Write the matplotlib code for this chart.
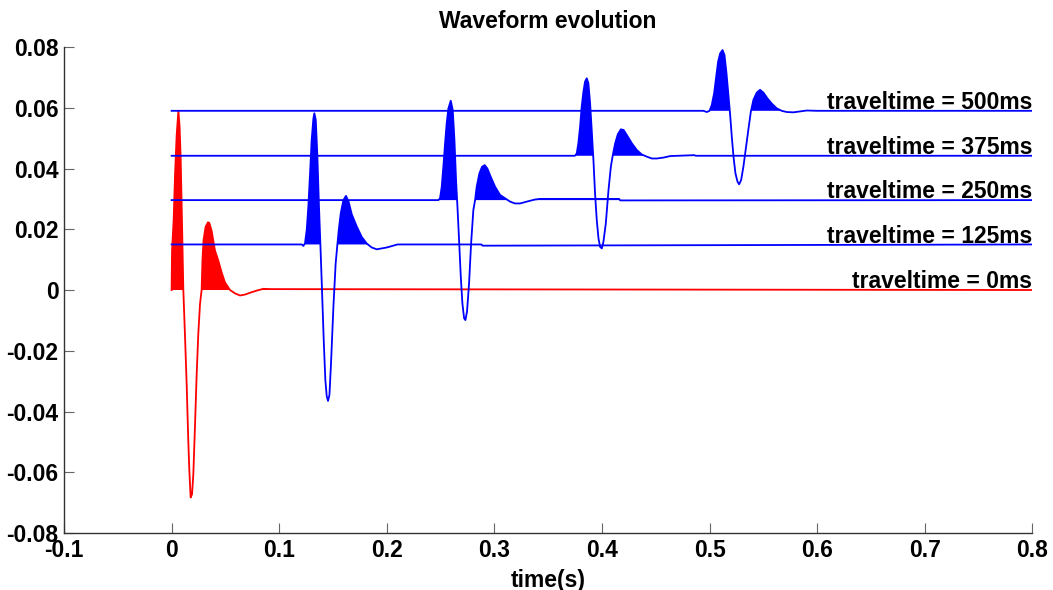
import matplotlib
matplotlib.use('Agg')
import matplotlib.pyplot as plt

plt.rcParams['font.family'] = ['Liberation Sans', 'DejaVu Sans']
plt.rcParams['font.weight'] = 'bold'

# traces: one wavelet per travel time, drawn on its own baseline
labels = ['traveltime = 0ms', 'traveltime = 125ms', 'traveltime = 250ms',
          'traveltime = 375ms', 'traveltime = 500ms']
baselines = [0.0, 0.0150, 0.0296, 0.0442, 0.0590]
colors = ['red', 'blue', 'blue', 'blue', 'blue']

# 0 ms
t_0 = [0.0, 0.0004, 0.0019, 0.0032, 0.0047, 0.0063, 0.0074, 0.0084, 0.0097, 0.0109,
       0.0125, 0.0140, 0.0155, 0.0165, 0.0177, 0.0190, 0.0202, 0.0218, 0.0233, 0.0248,
       0.0264, 0.0279, 0.0287, 0.0297, 0.0316, 0.0338, 0.0350, 0.0372, 0.0403, 0.0434,
       0.0465, 0.0496, 0.0543, 0.0589, 0.0636, 0.0682, 0.0729, 0.0791, 0.0853, 0.0915]
v_0 = [0.0, 0.013, 0.023, 0.038, 0.051, 0.059, 0.054, 0.0437, 0.0217, 0.0,
       -0.0156, -0.031, -0.0496, -0.0595, -0.0683, -0.0672, -0.0606, -0.0441, -0.0277, -0.0145,
       -0.0046, 0.0, 0.010, 0.0165, 0.0208, 0.0223, 0.0221, 0.0195, 0.013, 0.0097,
       0.0058, 0.0025, 0.0, -0.0011, -0.0018, -0.0015, -0.0009, -0.0002, 0.0004, 0.0003]

# 125 ms
t_1 = [0.1210, 0.1225, 0.1240, 0.1256, 0.1271, 0.1287, 0.1302, 0.1318, 0.1327, 0.1340,
       0.1355, 0.1370, 0.1383, 0.1398, 0.1414, 0.1429, 0.1442, 0.1454, 0.1467, 0.1482,
       0.1504, 0.1525, 0.1541, 0.1554, 0.1572, 0.1597, 0.1621, 0.1646, 0.1674, 0.1721,
       0.1767, 0.1814, 0.1860, 0.1907, 0.2000, 0.2100, 0.2880, 0.2890]
v_1 = [0.0150, 0.0145, 0.0154, 0.0198, 0.0274, 0.0384, 0.0494, 0.0565, 0.0582, 0.0560,
       0.0440, 0.0274, 0.0150, 0.0000, -0.0165, -0.0296, -0.0350, -0.0365, -0.0346, -0.0240,
       -0.0055, 0.0088, 0.0150, 0.0198, 0.0252, 0.0296, 0.0310, 0.0290, 0.0250, 0.0209,
       0.0175, 0.0153, 0.0140, 0.0134, 0.0140, 0.0150, 0.0150, 0.0146]

# 250 ms
t_2 = [0.2480, 0.2495, 0.2511, 0.2526, 0.2542, 0.2557, 0.2573, 0.2595, 0.2613, 0.2629,
       0.2644, 0.2657, 0.2672, 0.2688, 0.2703, 0.2719, 0.2731, 0.2746, 0.2765, 0.2784,
       0.2805, 0.2821, 0.2836, 0.2861, 0.2886, 0.2911, 0.2935, 0.2966, 0.3007, 0.3053,
       0.3100, 0.3146, 0.3192, 0.3239, 0.3301, 0.3378, 0.3425, 0.4160, 0.4170]
v_2 = [0.0296, 0.0302, 0.0340, 0.0406, 0.0483, 0.0549, 0.0598, 0.0623, 0.0593, 0.0494,
       0.0362, 0.0274, 0.0165, 0.0044, -0.0044, -0.0093, -0.0099, -0.0071, 0.0022, 0.0154,
       0.0264, 0.0296, 0.0340, 0.0384, 0.0406, 0.0411, 0.0400, 0.0373, 0.0340, 0.0313,
       0.0302, 0.0291, 0.0285, 0.0285, 0.0291, 0.0298, 0.0300, 0.0300, 0.0295]

# 375 ms
t_3 = [0.3750, 0.3766, 0.3781, 0.3797, 0.3812, 0.3828, 0.3843, 0.3859, 0.3874, 0.3890,
       0.3905, 0.3921, 0.3936, 0.3952, 0.3968, 0.3983, 0.3999, 0.4014, 0.4036, 0.4061,
       0.4083, 0.4101, 0.4123, 0.4148, 0.4176, 0.4201, 0.4232, 0.4278, 0.4324, 0.4371,
       0.4418, 0.4464, 0.4510, 0.4572, 0.4634, 0.4860, 0.4870]
v_3 = [0.0442, 0.0450, 0.0483, 0.0538, 0.0604, 0.0653, 0.0686, 0.0697, 0.0681, 0.0615,
       0.0527, 0.0428, 0.0318, 0.0230, 0.0170, 0.0142, 0.0137, 0.0159, 0.0219, 0.0329,
       0.0406, 0.0444, 0.0483, 0.0513, 0.0529, 0.0527, 0.0510, 0.0483, 0.0461, 0.0446,
       0.0439, 0.0433, 0.0433, 0.0436, 0.0441, 0.0444, 0.0442]

# 500 ms
t_4 = [0.4943, 0.4975, 0.5000, 0.5021, 0.5043, 0.5062, 0.5080, 0.5099, 0.5121, 0.5139,
       0.5158, 0.5177, 0.5192, 0.5207, 0.5223, 0.5241, 0.5260, 0.5275, 0.5294, 0.5315,
       0.5340, 0.5365, 0.5384, 0.5408, 0.5439, 0.5470, 0.5501, 0.5538, 0.5578, 0.5625,
       0.5671, 0.5718, 0.5780, 0.5842, 0.5904, 0.6000]
v_4 = [0.0590, 0.0586, 0.0590, 0.0609, 0.0648, 0.0702, 0.0752, 0.0779, 0.0790, 0.0774,
       0.0713, 0.0637, 0.0576, 0.0505, 0.0439, 0.0384, 0.0357, 0.0348, 0.0362, 0.0406,
       0.0472, 0.0538, 0.0587, 0.0626, 0.0650, 0.0659, 0.0650, 0.0631, 0.0614, 0.0598,
       0.0590, 0.0586, 0.0585, 0.0588, 0.0591, 0.0590]

times = [t_0, t_1, t_2, t_3, t_4]
values = [v_0, v_1, v_2, v_3, v_4]

xticks = [-0.1, 0, 0.1, 0.2, 0.3, 0.4, 0.5, 0.6, 0.7, 0.8]
xticklabels = ['-0.1', '0', '0.1', '0.2', '0.3', '0.4', '0.5', '0.6', '0.7', '0.8']
yticks = [-0.08, -0.06, -0.04, -0.02, 0, 0.02, 0.04, 0.06, 0.08]
yticklabels = ['-0.08', '-0.06', '-0.04', '-0.02', '0', '0.02', '0.04', '0.06', '0.08']

fig = plt.figure(figsize=(10.53, 5.90), dpi=100)
ax = fig.add_axes([0.0608, 0.0966, 0.9195, 0.8237])

for tw, vw, base, c, lab in zip(times, values, baselines, colors, labels):
    t = [0.0] + tw + [0.8]
    v = [base] + vw + [base]
    ax.fill_between(t, v, base, where=[x > base for x in v], interpolate=True,
                    color=c, lw=0)
    ax.plot(t, v, color=c, lw=1.3)
    ax.text(0.8, base + 0.0006, lab, ha='right', va='baseline', fontsize=16.5,
            fontweight='bold')

ax.set_xlim(-0.1, 0.8)
ax.set_ylim(-0.08, 0.08)
ax.set_xticks(xticks)
ax.set_xticklabels(xticklabels)
ax.set_yticks(yticks)
ax.set_yticklabels(yticklabels)
ax.tick_params(direction='in', length=7, width=0.8, color='0.4', labelsize=16.5, pad=4)
for s in ['top', 'right']:
    ax.spines[s].set_visible(False)
for s in ['left', 'bottom']:
    ax.spines[s].set_color('0.2')
    ax.spines[s].set_linewidth(1.0)

ax.set_title('Waveform evolution', fontsize=16.5, fontweight='bold', pad=14)
ax.set_xlabel('time(s)', fontsize=16.5, fontweight='bold', labelpad=5)

plt.savefig('out.png', dpi=100)
